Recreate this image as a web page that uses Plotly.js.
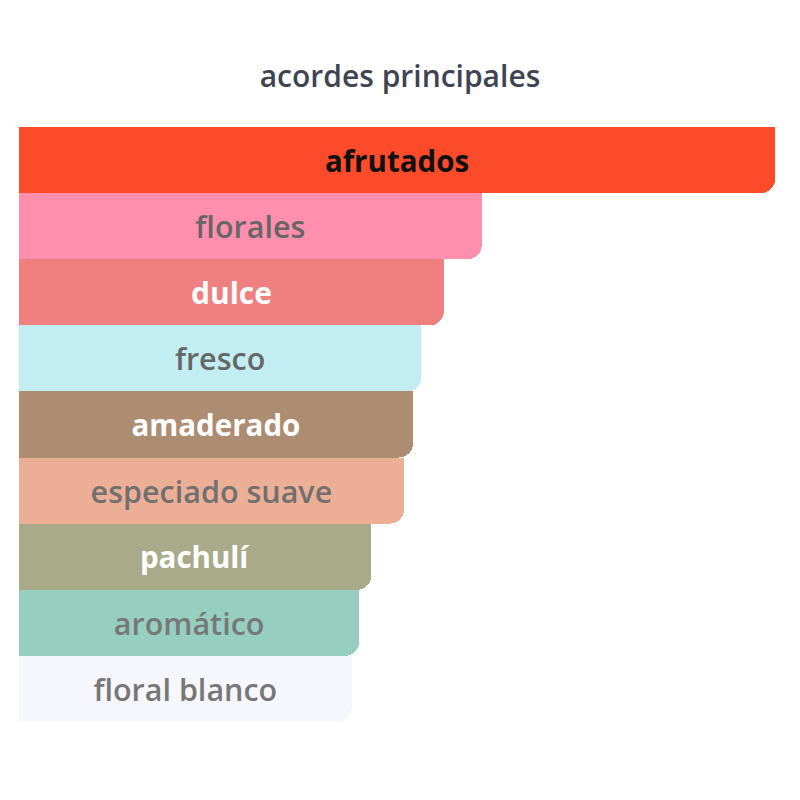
<!DOCTYPE html>
<html>
<head>
<meta charset="utf-8">
<script src="https://cdn.plot.ly/plotly-3.0.1.min.js"></script>
<style>html,body{margin:0;padding:0;background:#fff;}#chart{width:800px;height:800px;}</style>
</head>
<body>
<div id="chart"></div>
<script>
const categories = ["afrutados","florales","dulce","fresco","amaderado","especiado suave","pachulí","aromático","floral blanco"];
const values = [100, 61.2, 56.2, 53.2, 52.1, 50.9, 46.6, 45.0, 44.0];
const barColors = ["#FC4B2A","#FF8FAD","#F08080","#C2EEF3","#AD8D72","#EDAE96","#A9AA8A","#96CEC0","#F6F7FC"];
const labelColors = ["#111111","#666666","#FFFFFF","#666666","#FFFFFF","#707070","#FFFFFF","#777777","#777777"];
const labelWeights = [700,600,700,600,700,600,700,600,600];
const labelSizes = [29.5,30.5,30,30.5,29.5,30.5,29.5,30.5,30.5];

// square-cornered upper half (keeps the top-right corner square)
const squareTop = {
  type: "bar",
  orientation: "h",
  y: categories,
  x: values,
  width: 0.5,
  offset: -0.5,
  marker: {color: barColors, line: {width: 0}},
  hoverinfo: "none"
};

// full bar, rounded at the far end, carrying the labels
const rounded = {
  type: "bar",
  orientation: "h",
  y: categories,
  x: values,
  text: categories,
  textposition: "inside",
  insidetextanchor: "middle",
  textangle: 0,
  textfont: {family: "Open Sans, sans-serif", size: labelSizes, color: labelColors, weight: labelWeights},
  marker: {color: barColors, cornerradius: 14, line: {width: 0}},
  hoverinfo: "none"
};

const layout = {
  width: 800, height: 800,
  margin: {l: 19, r: 25, t: 127, b: 78},
  paper_bgcolor: "#ffffff",
  plot_bgcolor: "#ffffff",
  title: {text: "acordes principales", x: 0.5, xanchor: "center", y: 0.905, yanchor: "middle",
          font: {family: "Open Sans, sans-serif", size: 30, color: "#3E4452", weight: 600}},
  barmode: "overlay",
  bargap: 0,
  showlegend: false,
  xaxis: {range: [0, 100], visible: false, fixedrange: true},
  yaxis: {autorange: "reversed", visible: false, fixedrange: true},
  uniformtext: {mode: false}
};

Plotly.newPlot("chart", [squareTop, rounded], layout, {displayModeBar: false, staticPlot: true});
</script>
</body>
</html>
